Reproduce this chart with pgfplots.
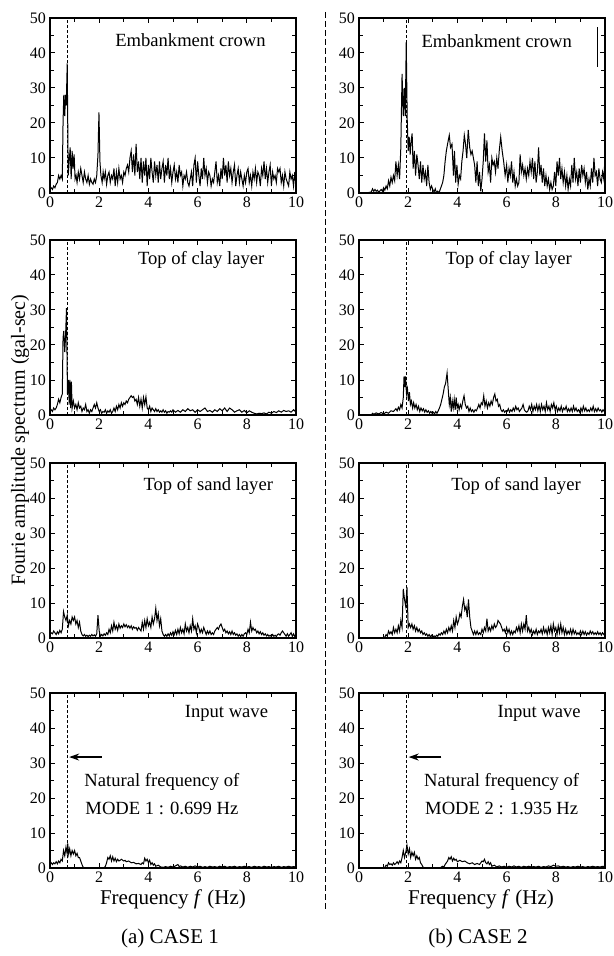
\documentclass[border=0pt]{standalone}
\usepackage{fontspec}
\setmainfont{Liberation Serif}
\usepackage{pgfplots}
\pgfplotsset{compat=1.18}
\usetikzlibrary{arrows.meta}

\pgfplotsset{
  panel/.style={
    width=123pt,height=87.5pt,scale only axis,anchor=south west,
    xmin=0,xmax=10,ymin=0,ymax=50,
    xtick={0,2,...,10},minor xtick={1,3,...,9},
    ytick={0,10,...,50},minor ytick={5,15,...,45},
    tick align=inside,major tick length=2.5pt,minor tick length=2pt,
    tick style={line width=0.5pt,black},
    axis line style={line width=0.6pt},
    tick label style={font=\fontsize{8}{8}\selectfont},
    /pgf/number format/assume math mode=true,
    xticklabel style={yshift=1.5pt},
    yticklabel style={xshift=1.5pt},
  },
  spec/.style={black,line width=0.5pt,no marks},
  nat/.style={black,line width=0.4pt,dash pattern=on 1.5pt off 1pt},
}
\newcommand{\lbl}{\fontsize{9.3}{10}\selectfont}

\begin{document}
\begin{tikzpicture}
\path[use as bounding box] (0,0) rectangle (307pt,-478pt);

% ---------- CASE 1 ----------
\begin{axis}[panel,at={(25pt,-96.5pt)}]
\addplot[spec] coordinates {(0,1)(0.05,1.5)(0.1,1)(0.15,2)(0.2,1.5)(0.25,2.5)(0.3,3)(0.35,5)(0.4,4)(0.45,5)(0.5,4)(0.53,20)(0.56,28)(0.6,22)(0.63,28)(0.66,25)(0.7,37)(0.74,5)(0.78,9)(0.82,13)(0.86,4)(0.9,12)(0.94,7)(0.98,11)(1.02,4)(1.06,5)(1.1,3)(1.15,6)(1.2,4)(1.25,7)(1.3,5)(1.35,3)(1.4,6)(1.45,4)(1.5,3)(1.55,5)(1.6,2.5)(1.65,4)(1.7,3)(1.75,2.5)(1.8,4)(1.85,3)(1.9,5)(1.95,11)(1.99,23)(2.03,9)(2.07,5)(2.12,3)(2.16,6)(2.2,4)(2.25,6)(2.3,2.5)(2.35,5)(2.4,6)(2.45,3)(2.5,5)(2.55,4)(2.6,7)(2.65,2)(2.7,6)(2.75,3)(2.8,7)(2.85,4)(2.9,5)(2.95,3)(3,6)(3.05,5)(3.1,7)(3.15,8)(3.2,6)(3.25,10)(3.3,12)(3.35,6)(3.4,11)(3.45,5)(3.5,14)(3.55,6)(3.6,9)(3.65,4)(3.7,10)(3.75,3)(3.8,9)(3.85,5)(3.9,10)(3.95,2)(4,8)(4.05,4)(4.1,10)(4.15,6)(4.2,3)(4.25,9)(4.3,5)(4.35,8)(4.4,3)(4.45,9)(4.5,4)(4.55,7)(4.6,9)(4.65,3)(4.7,8)(4.75,5)(4.8,10)(4.85,4)(4.9,7)(4.95,3)(5,6)(5.05,8)(5.1,4)(5.15,6)(5.2,3)(5.25,8)(5.3,5)(5.35,6)(5.4,2)(5.45,5)(5.5,4)(5.55,6)(5.6,3)(5.65,2)(5.7,4)(5.75,6)(5.8,2)(5.85,8)(5.9,10)(5.95,3)(6,9)(6.05,5)(6.1,2)(6.15,7)(6.2,4)(6.25,10)(6.3,5)(6.35,7)(6.4,3)(6.45,6)(6.5,5)(6.55,2)(6.6,4)(6.65,3)(6.7,6)(6.75,9)(6.8,3)(6.85,5)(6.9,2)(6.95,7)(7,4)(7.05,10)(7.1,5)(7.15,8)(7.2,3)(7.25,9)(7.3,5)(7.35,7)(7.4,3)(7.45,6)(7.5,8)(7.55,2)(7.6,5)(7.65,7)(7.7,3)(7.75,6)(7.8,4)(7.85,2)(7.9,5)(7.95,3)(8,6)(8.05,7)(8.1,3)(8.15,5)(8.2,2)(8.25,6)(8.3,4)(8.35,7)(8.4,3)(8.45,6)(8.5,5)(8.55,2)(8.6,7)(8.65,5)(8.7,9)(8.75,4)(8.8,7)(8.85,3)(8.9,6)(8.95,8)(9,2)(9.05,6)(9.1,4)(9.15,5)(9.2,3)(9.25,7)(9.3,6)(9.35,7)(9.4,3)(9.45,5)(9.5,2)(9.55,6)(9.6,4)(9.65,3)(9.7,2)(9.75,6)(9.8,4)(9.85,5)(9.9,2)(9.95,6)(10,2)};
\addplot[nat] coordinates {(0.699,0)(0.699,50)};
\node[anchor=east,font=\lbl] at (axis cs:9.05,43.7) {Embankment crown};
\end{axis}

\begin{axis}[panel,at={(25pt,-207.5pt)}]
\addplot[spec] coordinates {(0,1)(0.05,1.5)(0.1,1)(0.15,2)(0.2,1.5)(0.25,2)(0.3,3)(0.35,4.5)(0.4,3.5)(0.45,5)(0.5,6)(0.53,22)(0.56,24)(0.6,18)(0.63,22)(0.67,30.5)(0.71,6)(0.75,10)(0.78,3)(0.81,10)(0.84,2)(0.87,9.5)(0.9,2)(0.95,4)(1,2)(1.05,3)(1.1,1.5)(1.15,3.5)(1.2,2)(1.25,2.5)(1.3,1)(1.35,2)(1.4,1.5)(1.45,3)(1.5,1)(1.55,1.5)(1.6,0.5)(1.65,1.5)(1.7,1)(1.75,2)(1.8,3)(1.85,2)(1.9,3.5)(1.95,2)(2,1)(2.05,1.5)(2.1,0.5)(2.15,1)(2.2,0.8)(2.25,1.5)(2.3,0.5)(2.35,1.2)(2.4,0.8)(2.45,1.5)(2.5,0.5)(2.55,1)(2.6,2)(2.65,1)(2.7,2.5)(2.75,1.5)(2.8,3)(2.85,2)(2.9,3.5)(2.95,2.5)(3,3.5)(3.05,3)(3.1,4)(3.15,3.5)(3.2,4.5)(3.25,5)(3.3,5.5)(3.35,5)(3.4,5.3)(3.45,4)(3.5,4.5)(3.55,3)(3.6,5)(3.65,2.5)(3.7,4.5)(3.75,2)(3.8,5)(3.85,3)(3.9,5.2)(3.95,2)(4,1.5)(4.05,2.5)(4.1,1)(4.15,2)(4.2,1.5)(4.25,1)(4.3,1.8)(4.35,1)(4.4,1.5)(4.45,0.8)(4.5,1.2)(4.55,0.8)(4.6,1.5)(4.65,0.8)(4.7,1.2)(4.75,0.5)(4.8,1)(4.85,0.8)(4.9,1.2)(4.95,0.8)(5,1.5)(5.1,0.8)(5.2,1.3)(5.3,0.8)(5.4,1.5)(5.5,1)(5.6,1.8)(5.7,1.2)(5.8,1.5)(5.9,0.8)(6,1.5)(6.1,1)(6.2,1.5)(6.3,2)(6.4,1)(6.5,1.3)(6.6,0.8)(6.7,1.5)(6.8,1)(6.9,1.8)(7,1.2)(7.1,2)(7.2,1)(7.3,2)(7.4,1.5)(7.5,0.8)(7.6,1.2)(7.7,1.5)(7.8,0.8)(7.9,1.3)(8,0.6)(8.1,1.2)(8.2,0.8)(8.3,0.5)(8.4,0.3)(8.5,0.5)(8.6,0.4)(8.7,0.6)(8.8,0.3)(8.9,0.8)(9,0.5)(9.1,1)(9.2,0.7)(9.3,1.2)(9.4,0.8)(9.5,1.3)(9.6,1)(9.7,1.2)(9.8,0.8)(9.9,1.5)(10,0.8)};
\addplot[nat] coordinates {(0.699,0)(0.699,50)};
\node[anchor=east,font=\lbl] at (axis cs:9.0,44.3) {Top of clay layer};
\end{axis}

\begin{axis}[panel,at={(25pt,-319pt)}]
\addplot[spec] coordinates {(0,1)(0.05,1.5)(0.1,1.2)(0.15,2)(0.2,1.5)(0.25,1)(0.3,1.8)(0.35,1.2)(0.4,2.2)(0.45,1.5)(0.5,2.5)(0.55,7.5)(0.6,6)(0.65,5)(0.7,6.5)(0.75,3.5)(0.8,5)(0.85,4)(0.9,6)(0.95,5)(1,6)(1.05,4)(1.1,5)(1.15,3)(1.2,4.5)(1.25,2)(1.3,1)(1.35,0.6)(1.4,1)(1.45,0.5)(1.5,0.8)(1.55,0.4)(1.6,0.8)(1.65,0.5)(1.7,1)(1.75,0.6)(1.8,0.9)(1.85,0.5)(1.9,1.2)(1.95,6.5)(2,2)(2.05,0.5)(2.1,1)(2.15,0.6)(2.2,1.2)(2.25,0.8)(2.3,1.5)(2.35,1)(2.4,2.5)(2.45,1.5)(2.5,3.5)(2.55,2)(2.6,4.5)(2.65,2.5)(2.7,3.5)(2.75,2.2)(2.8,4)(2.85,2.8)(2.9,3.5)(2.95,3)(3,4)(3.05,3.2)(3.1,3.8)(3.15,3)(3.2,3.5)(3.25,2.8)(3.3,3.5)(3.35,2.5)(3.4,3.2)(3.45,2.8)(3.5,3)(3.55,2.2)(3.6,3)(3.65,2.5)(3.7,2)(3.75,4.5)(3.8,2.5)(3.85,5)(3.9,3)(3.95,5.5)(4,3.5)(4.05,4.5)(4.1,3)(4.15,6)(4.2,4)(4.25,5.5)(4.3,8.5)(4.35,5)(4.4,7)(4.45,3.5)(4.5,5.5)(4.55,2)(4.6,1)(4.65,0.5)(4.7,1)(4.75,0.5)(4.8,1.2)(4.85,0.6)(4.9,1.5)(4.95,0.8)(5,1.8)(5.05,1)(5.1,2.2)(5.15,1)(5.2,2.5)(5.25,1.2)(5.3,3)(5.35,1.5)(5.4,2.5)(5.45,1.2)(5.5,4)(5.55,2)(5.6,3)(5.65,1.5)(5.7,3.5)(5.75,2)(5.8,5.5)(5.85,2.5)(5.9,3.5)(5.95,1.5)(6,4)(6.05,3)(6.1,1.5)(6.15,2.5)(6.2,1.5)(6.25,3)(6.3,2)(6.35,1)(6.4,2)(6.45,1.2)(6.5,2)(6.55,1)(6.6,1.5)(6.65,1)(6.7,2)(6.75,2.5)(6.8,3)(6.85,2.5)(6.9,3.5)(6.95,4)(7,3)(7.05,2)(7.1,2.5)(7.15,1.5)(7.2,2)(7.25,1.2)(7.3,1.8)(7.35,1)(7.4,2)(7.45,1)(7.5,1.5)(7.55,0.8)(7.6,1.2)(7.65,0.5)(7.7,1)(7.75,0.4)(7.8,1)(7.85,0.5)(7.9,1.2)(7.95,1.5)(8,1)(8.05,2.5)(8.1,1.5)(8.15,4.5)(8.2,2)(8.25,3)(8.3,2.2)(8.35,2.5)(8.4,1.5)(8.45,2)(8.5,1.2)(8.55,1.8)(8.6,1)(8.65,1.5)(8.7,0.8)(8.75,1.2)(8.8,0.6)(8.85,1)(8.9,0.5)(8.95,0.8)(9,0.4)(9.05,1)(9.1,0.5)(9.15,0.8)(9.2,0.4)(9.25,1)(9.3,1.2)(9.35,0.8)(9.4,1.5)(9.45,2)(9.5,1.5)(9.55,1)(9.6,0.5)(9.65,1.2)(9.7,0.5)(9.75,1)(9.8,1.5)(9.85,0.5)(9.9,1.2)(9.95,0.4)(10,1)};
\addplot[nat] coordinates {(0.699,0)(0.699,50)};
\node[anchor=east,font=\lbl] at (axis cs:9.35,43.4) {Top of sand layer};
\end{axis}

\begin{axis}[panel,at={(25pt,-434pt)}]
\addplot[spec] coordinates {(0,1)(0.05,1.5)(0.1,1)(0.15,1.5)(0.2,1.2)(0.25,1.8)(0.3,1.2)(0.35,2)(0.4,1.5)(0.45,2.5)(0.5,2)(0.55,5)(0.6,3.5)(0.65,6)(0.7,4)(0.72,7)(0.76,4)(0.8,5.5)(0.85,3.5)(0.9,5)(0.95,4)(1,5)(1.05,3.5)(1.1,4.2)(1.15,3)(1.2,3)(1.25,2)(1.3,1)(1.35,0.2)(1.4,0)(2.2,0)(2.25,0.5)(2.3,1.5)(2.35,3)(2.4,2.5)(2.45,3.5)(2.5,2)(2.55,3.2)(2.6,2)(2.65,2.8)(2.7,1.8)(2.75,2.5)(2.8,2)(2.85,2.2)(2.9,2.5)(3,2)(3.05,2.2)(3.1,1.8)(3.2,2)(3.3,1.5)(3.4,1.6)(3.5,1.2)(3.6,1.3)(3.7,1)(3.75,1.5)(3.8,1.2)(3.85,2.8)(3.9,2)(3.95,2.5)(4,1.5)(4.05,2.2)(4.1,1)(4.15,1.5)(4.2,0.8)(4.25,1.2)(4.3,0.5)(4.4,0.8)(4.5,0.3)(4.6,0.2)(4.7,0.4)(4.8,0.2)(4.9,0.5)(5,0.3)(5.1,0.6)(5.2,1)(5.25,0.4)(5.3,0.6)(5.4,0.3)(5.5,0.5)(5.6,0.2)(5.7,0.5)(5.8,0.3)(5.9,0.6)(6,0.3)(6.1,0.5)(6.2,0.2)(6.3,0.4)(6.4,0.2)(6.5,0.5)(6.6,0.3)(6.7,0.4)(6.8,0.2)(6.9,0.5)(7,0.3)(7.1,0.5)(7.2,0.2)(7.3,0.4)(7.4,0.3)(7.5,0.5)(7.6,0.2)(7.7,0.4)(7.8,0.3)(7.9,0.5)(8,0.3)(8.1,0.4)(8.2,0.2)(8.3,0.5)(8.4,0.3)(8.5,0.4)(8.6,0.2)(8.7,0.5)(8.8,0.3)(8.9,0.4)(9,0.2)(9.1,0.4)(9.2,0.3)(9.3,0.5)(9.4,0.2)(9.5,0.4)(9.6,0.3)(9.7,0.5)(9.8,0.3)(9.9,0.4)(10,0.3)};
\addplot[nat] coordinates {(0.699,0)(0.699,50)};
\node[anchor=east,font=\lbl] at (axis cs:9.15,44.3) {Input wave};
\draw[line width=0.6pt,-{Stealth[length=5pt,width=3.5pt]}] (axis cs:2.1,31.7) -- (axis cs:0.78,31.7);
\node[font=\lbl] at (axis cs:4.55,24.6) {Natural frequency of};
\node[font=\lbl] at (axis cs:4.55,16.9) {MODE 1 : 0.699 Hz};
\end{axis}

% ---------- CASE 2 ----------
\begin{axis}[panel,at={(179.5pt,-96.5pt)}]
\addplot[spec] coordinates {(0,0)(0.3,0)(0.5,0.3)(0.55,1.2)(0.6,0.5)(0.65,1)(0.7,0.5)(0.75,0.8)(0.8,0.2)(0.9,1)(0.95,0.5)(1,1.5)(1.05,0.8)(1.1,2)(1.15,1.2)(1.2,3.5)(1.25,2)(1.3,4.5)(1.35,3)(1.4,5)(1.45,3.5)(1.5,9)(1.55,5)(1.6,8)(1.65,4)(1.7,13)(1.75,34)(1.8,22)(1.84,30)(1.88,22)(1.92,43)(1.96,21)(2,12)(2.04,16)(2.08,11)(2.12,15)(2.16,17)(2.2,7)(2.25,12)(2.3,5)(2.35,11)(2.4,8)(2.45,4)(2.5,9)(2.55,3)(2.6,8)(2.65,4)(2.7,6)(2.75,2)(2.8,8)(2.85,3)(2.9,1)(2.95,2)(3,1)(3.05,0.3)(3.1,1.2)(3.15,0)(3.2,0.5)(3.25,0)(3.3,1)(3.35,2)(3.4,3)(3.45,5)(3.5,9)(3.55,12)(3.6,14)(3.67,16.5)(3.72,13)(3.78,14)(3.84,5)(3.88,12)(3.93,3)(3.98,8)(4.03,2.5)(4.08,5)(4.13,4)(4.18,9)(4.23,12)(4.28,16.5)(4.33,14)(4.38,10)(4.44,18)(4.5,13)(4.55,11)(4.6,12)(4.65,10)(4.7,8)(4.75,3)(4.8,9)(4.85,2)(4.9,6)(4.95,0.5)(5,4)(5.05,9)(5.1,17)(5.15,9)(5.2,15)(5.25,6)(5.3,8)(5.35,3)(5.4,10)(5.45,8)(5.5,9)(5.55,6)(5.6,10)(5.65,7)(5.7,12)(5.76,16)(5.82,12)(5.88,9)(5.94,5)(6,8)(6.05,3)(6.1,7)(6.15,5)(6.2,9)(6.25,3)(6.3,6)(6.35,2)(6.4,4)(6.45,2)(6.5,3)(6.55,11)(6.6,6)(6.65,8)(6.7,5)(6.75,7)(6.8,4)(6.85,7)(6.9,5)(6.95,9)(7,6)(7.05,10)(7.1,4)(7.15,9)(7.2,3)(7.25,6)(7.3,13)(7.35,5)(7.4,8)(7.45,3)(7.5,7)(7.55,2)(7.6,5)(7.65,2)(7.7,4)(7.75,1)(7.8,3)(7.85,1)(7.9,2)(7.95,6)(8,2)(8.05,9)(8.1,5)(8.15,10)(8.2,4)(8.25,7)(8.3,3)(8.35,6)(8.4,2)(8.45,5)(8.5,1)(8.55,4)(8.6,2)(8.65,8)(8.7,3)(8.75,10)(8.8,4)(8.85,6)(8.9,2)(8.95,7)(9,3)(9.05,8)(9.1,5)(9.15,7)(9.2,3)(9.25,6)(9.3,1)(9.35,4)(9.4,2)(9.45,7)(9.5,3)(9.55,10)(9.6,5)(9.65,6)(9.7,2)(9.75,7)(9.8,4)(9.85,3)(9.9,6)(9.95,4)(10,10)};
\addplot[nat] coordinates {(1.935,0)(1.935,50)};
\addplot[black,line width=0.5pt] coordinates {(9.7,36)(9.7,47.5)};
\node[anchor=east,font=\lbl] at (axis cs:8.94,43.5) {Embankment crown};
\end{axis}

\begin{axis}[panel,at={(179.5pt,-207.5pt)}]
\addplot[spec] coordinates {(0,0)(0.5,0)(0.55,0.5)(0.6,0.2)(0.7,0.6)(0.8,0.3)(0.9,0.7)(1,0.3)(1.1,0.8)(1.2,0.5)(1.3,1.2)(1.4,1)(1.5,1.8)(1.55,1.2)(1.6,2.2)(1.65,1.5)(1.7,3)(1.75,2)(1.8,5)(1.83,11)(1.86,8)(1.89,11)(1.93,6)(1.97,7.5)(2.01,4)(2.05,6.5)(2.09,3)(2.13,4)(2.18,2)(2.22,3.5)(2.27,2)(2.32,3)(2.37,1.5)(2.42,2.5)(2.47,1)(2.52,2)(2.57,1.2)(2.62,1.8)(2.67,0.8)(2.72,1.5)(2.77,0.8)(2.82,1.2)(2.87,0.5)(2.92,1)(2.97,0.5)(3.02,0.8)(3.07,0.3)(3.12,1)(3.17,0.5)(3.22,1.2)(3.27,2)(3.32,3)(3.37,4.5)(3.42,6)(3.47,8)(3.52,9)(3.58,12)(3.63,7)(3.67,3)(3.71,5)(3.75,1)(3.79,4)(3.83,2)(3.87,4.5)(3.91,1.5)(3.95,5)(3.99,2)(4.03,3)(4.07,1.5)(4.12,3)(4.17,2)(4.22,4)(4.27,5.5)(4.32,3)(4.37,2)(4.42,2.5)(4.47,1)(4.52,2)(4.57,1)(4.62,1.5)(4.67,0.8)(4.72,1.5)(4.77,1.2)(4.82,2)(4.87,3)(4.92,2)(4.97,3.5)(5.02,3)(5.07,5.5)(5.12,2.5)(5.17,4)(5.22,2)(5.27,3.5)(5.32,2.5)(5.37,4)(5.42,3)(5.47,5)(5.52,6)(5.57,4)(5.62,4.5)(5.67,2.5)(5.72,3)(5.77,1.5)(5.82,1)(5.87,1.5)(5.92,0.8)(5.97,1.2)(6.02,1)(6.07,1.8)(6.12,0.8)(6.17,1.5)(6.22,1)(6.27,2)(6.32,1.2)(6.37,2.5)(6.42,1.5)(6.47,2)(6.52,1)(6.57,1.5)(6.62,2)(6.67,3)(6.72,1.5)(6.77,1)(6.82,0.8)(6.87,1.2)(6.92,2.5)(6.97,1.5)(7.02,3)(7.07,1)(7.12,2.5)(7.17,1.5)(7.22,3)(7.27,1.2)(7.32,2.8)(7.37,1)(7.42,3)(7.47,1.5)(7.52,2.5)(7.57,1)(7.62,3.5)(7.67,1.5)(7.72,2.5)(7.77,1)(7.82,3)(7.87,2)(7.92,3.5)(7.97,1.5)(8.02,2.5)(8.07,1)(8.12,2)(8.17,1.2)(8.22,2.5)(8.27,1)(8.32,2)(8.37,1.5)(8.42,2.5)(8.47,1)(8.52,1.8)(8.57,1)(8.62,2)(8.67,1)(8.72,2.5)(8.77,1.2)(8.82,2)(8.87,1)(8.92,1.5)(8.97,0.8)(9.02,2)(9.07,1)(9.12,2.5)(9.17,1.2)(9.22,2)(9.27,1)(9.32,1.5)(9.37,1)(9.42,2)(9.47,1.2)(9.52,2.5)(9.57,1)(9.62,1.8)(9.67,1)(9.72,2)(9.77,1.2)(9.82,1.5)(9.87,0.8)(9.92,1.5)(9.97,1)(10,1.5)};
\addplot[nat] coordinates {(1.935,0)(1.935,50)};
\node[anchor=east,font=\lbl] at (axis cs:8.94,44.3) {Top of clay layer};
\end{axis}

\begin{axis}[panel,at={(179.5pt,-319pt)}]
\addplot[spec] coordinates {(0,0)(1,0)(1.05,0.3)(1.1,1)(1.15,0.5)(1.2,2)(1.25,1.2)(1.3,1.8)(1.35,1)(1.4,3)(1.45,1.5)(1.5,2.5)(1.55,1.5)(1.6,3.5)(1.65,2)(1.7,5)(1.75,3)(1.8,14)(1.85,11)(1.9,9)(1.95,14.5)(2,3)(2.05,4)(2.1,3)(2.15,4)(2.2,2.5)(2.25,3.5)(2.3,2)(2.35,3)(2.4,1.8)(2.45,2.5)(2.5,1.5)(2.55,2)(2.6,1)(2.65,1.5)(2.7,0.8)(2.75,1.2)(2.8,0.5)(2.85,1)(2.9,0.3)(2.95,0.8)(3,0.2)(3.05,0.6)(3.1,0.3)(3.15,0.8)(3.2,0.5)(3.25,1.2)(3.3,0.8)(3.35,1.5)(3.4,1)(3.45,2)(3.5,1.2)(3.55,2.5)(3.6,1.5)(3.65,3)(3.7,2)(3.75,3.5)(3.8,2)(3.85,5)(3.9,3)(3.95,6)(4,4)(4.05,5)(4.1,7)(4.15,6)(4.2,9)(4.25,11)(4.3,8)(4.35,9)(4.4,6)(4.45,11)(4.5,6)(4.55,3)(4.6,2)(4.65,1)(4.7,2)(4.75,1)(4.8,2)(4.85,1)(4.9,1.5)(4.95,1)(5,2.5)(5.05,1.5)(5.1,3)(5.15,2)(5.2,5.5)(5.25,2)(5.3,3)(5.35,2)(5.4,3.5)(5.45,2.5)(5.5,4)(5.55,3)(5.6,3.5)(5.65,5)(5.7,4.5)(5.75,4)(5.8,3)(5.85,2)(5.9,2.5)(5.95,1.5)(6,3)(6.05,1.5)(6.1,2.5)(6.15,1)(6.2,2)(6.25,1)(6.3,2)(6.35,1.5)(6.4,3)(6.45,2)(6.5,3.5)(6.55,1.5)(6.6,4)(6.65,2)(6.7,4)(6.75,2.5)(6.8,6.5)(6.85,2)(6.9,3)(6.95,1.5)(7,2.5)(7.05,1)(7.1,2)(7.15,1.2)(7.2,2.5)(7.25,1)(7.3,2)(7.35,1.5)(7.4,2.5)(7.45,1.2)(7.5,3)(7.55,1.5)(7.6,2.5)(7.65,1)(7.7,3)(7.75,1.5)(7.8,3.5)(7.85,1)(7.9,4)(7.95,2)(8,3)(8.05,1)(8.1,3.5)(8.15,1.5)(8.2,4)(8.25,1.5)(8.3,3)(8.35,1)(8.4,2.5)(8.45,1)(8.5,2)(8.55,1.2)(8.6,2.5)(8.65,1)(8.7,2.5)(8.75,1.2)(8.8,2)(8.85,1)(8.9,1.5)(8.95,1)(9,2)(9.05,1)(9.1,2)(9.15,1)(9.2,1.8)(9.25,0.8)(9.3,1.5)(9.35,1)(9.4,2)(9.45,1.2)(9.5,1.8)(9.55,1)(9.6,1.5)(9.65,1)(9.7,1.8)(9.75,1)(9.8,1.5)(9.85,0.8)(9.9,1.5)(9.95,1)(10,1.5)};
\addplot[nat] coordinates {(1.935,0)(1.935,50)};
\node[anchor=east,font=\lbl] at (axis cs:9.3,43.4) {Top of sand layer};
\end{axis}

\begin{axis}[panel,at={(179.5pt,-434pt)}]
\addplot[spec] coordinates {(0,0)(1,0)(1.05,0.2)(1.1,0.8)(1.15,0.5)(1.2,1.5)(1.25,1)(1.3,1.2)(1.35,0.8)(1.4,1.5)(1.45,1)(1.5,1.3)(1.55,1.8)(1.6,1.2)(1.65,2)(1.7,1.5)(1.75,3)(1.8,5)(1.85,3)(1.9,4.5)(1.95,6.5)(2,4)(2.05,5.5)(2.1,3)(2.15,4.5)(2.2,3.5)(2.25,4.5)(2.3,2.5)(2.35,3.5)(2.4,2.5)(2.45,3)(2.5,1.5)(2.55,1)(2.6,0.3)(2.65,0)(3.3,0)(3.35,0.3)(3.4,0.5)(3.45,0.3)(3.5,1)(3.55,1.5)(3.6,2)(3.65,3)(3.7,2.5)(3.75,3.2)(3.8,2)(3.85,2.8)(3.9,2.2)(3.95,2.5)(4,1.8)(4.1,2.2)(4.2,1.8)(4.3,2)(4.4,1.5)(4.5,1.2)(4.6,1.5)(4.7,1)(4.8,1.3)(4.9,1)(4.95,1.5)(5,2)(5.05,1.8)(5.1,2.5)(5.15,1.5)(5.2,1.2)(5.25,1.8)(5.3,1)(5.35,1.5)(5.4,0.5)(5.5,0.8)(5.6,0.3)(5.7,0.6)(5.8,0.3)(5.9,0.5)(6,0.2)(6.1,0.5)(6.2,0.3)(6.3,0.6)(6.4,0.3)(6.5,0.5)(6.6,0.2)(6.7,0.5)(6.8,0.3)(6.9,0.5)(7,0.3)(7.1,0.4)(7.2,0.3)(7.3,0.5)(7.4,0.2)(7.5,0.4)(7.6,0.3)(7.7,0.6)(7.8,0.4)(7.9,0.8)(8,0.5)(8.1,0.6)(8.2,0.3)(8.3,0.5)(8.4,0.3)(8.5,0.4)(8.6,0.2)(8.7,0.4)(8.8,0.3)(8.9,0.5)(9,0.3)(9.1,0.4)(9.2,0.2)(9.3,0.4)(9.4,0.3)(9.5,0.5)(9.6,0.3)(9.7,0.4)(9.8,0.3)(9.9,0.5)(10,0.4)};
\addplot[nat] coordinates {(1.935,0)(1.935,50)};
\node[anchor=east,font=\lbl] at (axis cs:9.3,44.3) {Input wave};
\draw[line width=0.6pt,-{Stealth[length=5pt,width=3.5pt]}] (axis cs:3.35,31.7) -- (axis cs:2.02,31.7);
\node[font=\lbl] at (axis cs:5.8,24.6) {Natural frequency of};
\node[font=\lbl] at (axis cs:5.8,16.9) {MODE 2 : 1.935 Hz};
\end{axis}

% ---------- frame texts ----------
\draw[line width=0.5pt,dash pattern=on 3pt off 1.5pt] (162.5pt,-6pt) -- (162.5pt,-456pt);
\node[rotate=90,font=\fontsize{10}{12}\selectfont] at (10pt,-220pt) {Fourie amplitude spectrum (gal-sec)};
\node[font=\fontsize{10.5}{12}\selectfont] at (86.5pt,-449.5pt) {Frequency \textit{f} (Hz)};
\node[font=\fontsize{10.5}{12}\selectfont] at (240.5pt,-449.5pt) {Frequency \textit{f} (Hz)};
\node[font=\fontsize{10.5}{12}\selectfont] at (85pt,-469pt) {(a) CASE 1};
\node[font=\fontsize{10.5}{12}\selectfont] at (239pt,-469pt) {(b) CASE 2};
\end{tikzpicture}
\end{document}
